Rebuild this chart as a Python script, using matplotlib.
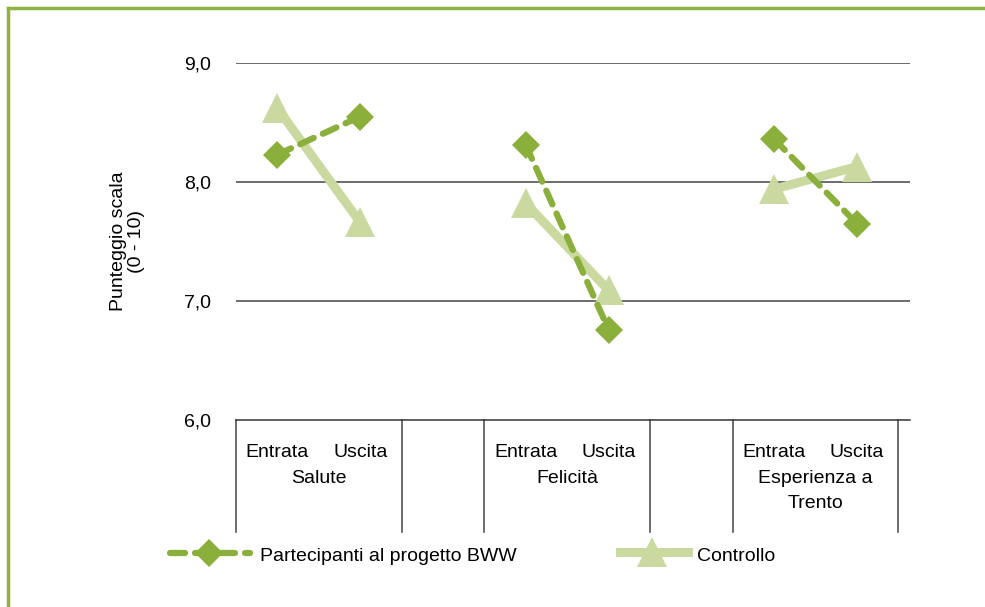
import numpy as np
import matplotlib.pyplot as plt
from matplotlib.lines import Line2D
import matplotlib.transforms as mtransforms

plt.rcParams['font.family'] = ['Liberation Sans', 'DejaVu Sans']

# categories along the x axis (blank slots separate the three groups)
categories = ['Entrata', 'Uscita', '', 'Entrata', 'Uscita', '', 'Entrata', 'Uscita']
groups = ['Salute', 'Felicità', 'Esperienza a\nTrento']
group_start = [0, 3, 6]

bww = [8.23, 8.55, np.nan, 8.31, 6.76, np.nan, 8.36, 7.65]
controllo = [8.62, 7.66, np.nan, 7.82, 7.09, np.nan, 7.94, 8.13]

dark_green = '#8AAF3B'
light_green = '#C9D9A0'
W, H = 985, 607
fs = 14

fig = plt.figure(figsize=(W / 100, H / 100), dpi=100)
ax = fig.add_axes([236 / W, 1 - 420 / H, (910 - 236) / W, (420 - 63) / H])

x = np.arange(len(categories))
ax.plot(x, controllo, color=light_green, lw=6.5, marker='^', ms=21,
        markeredgewidth=0, zorder=3)
ax.plot(x, bww, color=dark_green, lw=4.5, ls=(0, (2.4, 1.6)), dash_capstyle='round',
        marker='D', ms=14, markeredgewidth=0, zorder=4)

ax.set_ylim(6, 9)
ax.set_xlim(-0.5, 7.64)
ax.set_yticks([6, 7, 8, 9])
ax.set_yticklabels(['6,0', '7,0', '8,0', '9,0'], fontsize=fs)
ax.tick_params(axis='y', length=0, pad=18)
ax.set_xticks([])
for v in [7, 8, 9]:
    ax.axhline(v, color='#444444', lw=1.1, zorder=1)
for s in ['top', 'right', 'left']:
    ax.spines[s].set_visible(False)
ax.spines['bottom'].set_color('#333333')
ax.spines['bottom'].set_linewidth(1.1)

ax.set_ylabel('Punteggio scala\n(0 - 10)', fontsize=fs, labelpad=28, linespacing=1.1)

# multi-level category axis drawn below the plot
trans = mtransforms.blended_transform_factory(ax.transData, ax.transAxes)
bottom = -(532 - 420) / 357
for b in [-0.5, 1.5, 2.5, 4.5, 5.5, 7.5]:
    ax.plot([b, b], [0, bottom], color='#444444', lw=1.1, transform=trans, clip_on=False)
for i, c in enumerate(categories):
    if c:
        ax.text(i, -24 / 357, c, transform=trans, ha='center', va='top', fontsize=fs)
for g, s in zip(groups, group_start):
    ax.text(s + 0.5, -50 / 357, g, transform=trans, ha='center', va='top',
            fontsize=fs, linespacing=1.6)

# legend entries
def fig_pt(px, py):
    return px / W, 1 - py / H

x0, y0 = fig_pt(170, 553)
xc, _ = fig_pt(209, 553)
x1, _ = fig_pt(250, 553)
fig.add_artist(Line2D([x0, xc, x1], [y0, y0, y0], color=dark_green, lw=4.5,
                      ls=(0, (2.4, 1.6)), dash_capstyle='round', marker='D', ms=14,
                      markeredgewidth=0, markevery=[1]))
fig.text(*fig_pt(260, 561), 'Partecipanti al progetto BWW', fontsize=fs, va='baseline')

x0, y0 = fig_pt(620, 552)
xc, _ = fig_pt(652, 552)
x1, _ = fig_pt(688, 552)
fig.add_artist(Line2D([x0, xc, x1], [y0, y0, y0], color=light_green, lw=6.5,
                      marker='^', ms=21, markeredgewidth=0, markevery=[1]))
fig.text(*fig_pt(697, 561), 'Controllo', fontsize=fs, va='baseline')

# green frame on the top and left edges
border = '#8DB441'
fig.add_artist(Line2D([8 / W, 8 / W], [0, 1 - 8 / H], color=border, lw=2.5))
fig.add_artist(Line2D([8 / W, 1], [1 - 8 / H, 1 - 8 / H], color=border, lw=2.5))

fig.savefig('out.png', dpi=100)
